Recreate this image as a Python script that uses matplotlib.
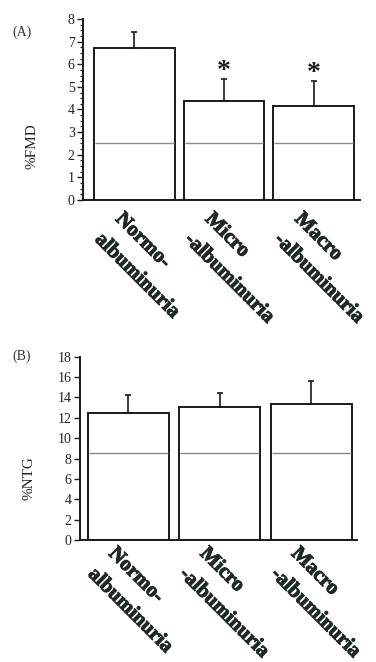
import matplotlib
matplotlib.use("Agg")
import matplotlib.pyplot as plt
from matplotlib.ticker import MultipleLocator
import matplotlib.transforms as mtransforms
import matplotlib.patheffects as pe

categories = ["Normo-\nalbuminuria", "Micro\n-albuminuria", "Macro\n-albuminuria"]
fmd_mean = [6.7, 4.39, 4.17]
fmd_err = [0.72, 0.94, 1.1]
fmd_ref = 2.5
fmd_sig = [False, True, True]
ntg_mean = [12.5, 13.1, 13.4]
ntg_err = [1.74, 1.3, 2.25]
ntg_ref = 8.5

plt.rcParams['font.family'] = ['Liberation Serif', 'DejaVu Serif']

fig = plt.figure(figsize=(3.76, 6.62), dpi=100)
edge = '#1a1a1a'
grey = '#8a8a8a'
line_gap = 29  # px between label lines, perpendicular to text

def panel(rect, means, errs, ref, ylim, major, minor, ylabel, ylab_pos, width, xlim, lab_dx, lab_dy, sig=None, letter=None, letter_pos=None):
    ax = fig.add_axes(rect)
    x = list(range(len(means)))
    ax.bar(x, means, width=width, color='white', edgecolor=edge, linewidth=1.4, zorder=2)
    ax.errorbar(x, means, yerr=[[0]*len(errs), errs], fmt='none', ecolor=edge,
                elinewidth=1.2, capsize=2.5, capthick=1.2, zorder=3)
    for xi in x:
        ax.hlines(ref, xi - width/2 + 0.01, xi + width/2 - 0.01, color=grey, linewidth=1.0, zorder=3)
    ax.set_xlim(*xlim)
    ax.set_ylim(*ylim)
    ax.yaxis.set_major_locator(MultipleLocator(major))
    if minor:
        ax.yaxis.set_minor_locator(MultipleLocator(minor))
        ax.tick_params(axis='y', which='minor', length=2, width=0.8, direction='out', color=edge)
    ax.tick_params(axis='y', which='major', length=4, width=1.0, direction='out', color=edge,
                   labelsize=10, pad=2, labelcolor='#222222')
    ax.set_xticks([])
    for s in ['top', 'right']:
        ax.spines[s].set_visible(False)
    for s in ['left', 'bottom']:
        ax.spines[s].set_linewidth(1.4)
        ax.spines[s].set_color(edge)
    ax.set_ylabel(ylabel, fontsize=11, color='#222222')
    ax.yaxis.set_label_coords(*ylab_pos)
    trans = mtransforms.blended_transform_factory(ax.transData, ax.transAxes)
    for xi, lab in zip(x, categories):
        for k, line in enumerate(lab.split('\n')):
            off = k * line_gap * 0.7071
            tr = mtransforms.offset_copy(trans, fig=fig, x=-off, y=-off, units='dots')
            ax.text(xi + lab_dx, lab_dy, line, transform=tr, rotation=-45, rotation_mode='anchor',
                    ha='left', va='top', fontsize=15, fontweight='bold', color='#1f2a24',
                    path_effects=[pe.withStroke(linewidth=0.7, foreground='#1f2a24')])
    if sig:
        for xi, m, e, s in zip(x, means, errs, sig):
            if s:
                ax.text(xi, m + e - 0.22, '*', ha='center', va='bottom', fontsize=20,
                        fontweight='bold', color=edge)
    if letter:
        fig.text(letter_pos[0], letter_pos[1], letter, fontsize=10, color='#333333', ha='left', va='center')
    return ax

panel([83/376, 1-200/662, 277/376, 181/662], fmd_mean, fmd_err, fmd_ref, (0, 8), 1, 0.25,
      '%FMD', (-0.16, 0.30), 0.9, (-0.572, 2.517), -0.10, -0.05, sig=fmd_sig,
      letter='(A)', letter_pos=(12/376, 1-32/662))
panel([80/376, 1-540/662, 277/376, 183.3/662], ntg_mean, ntg_err, ntg_ref, (0, 18), 2, None,
      '%NTG', (-0.16, 0.34), 0.885, (-0.53, 2.50), -0.11, -0.02,
      letter='(B)', letter_pos=(12/376, 1-356/662))

fig.savefig('out.png', dpi=100, facecolor='white')
